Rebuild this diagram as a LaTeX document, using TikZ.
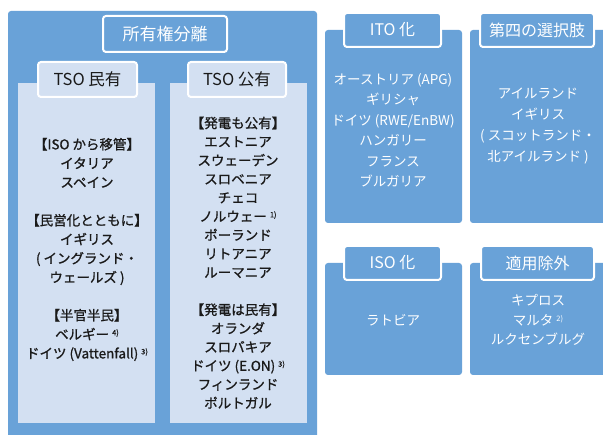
\documentclass[tikz,border=0pt]{standalone}
\usepackage{fontspec}
\setmainfont{Noto Sans CJK JP}
\newfontfamily\darkfont[FakeBold=1]{Noto Sans CJK JP}
\definecolor{panelblue}{HTML}{69A2D8}
\definecolor{panellight}{HTML}{D3E0F2}
\definecolor{textdark}{HTML}{1A1A1A}
\newcommand\fnote[1]{\raisebox{0.55ex}{\fontsize{7.5}{7.5}\selectfont #1}}
\tikzset{
  outerpanel/.style={fill=panelblue, rounded corners=3pt, anchor=north west, inner sep=0pt, outer sep=0pt},
  innerpanel/.style={fill=panellight, anchor=north west, inner sep=0pt, outer sep=0pt},
  bluetab/.style={fill=panelblue, draw=white, line width=2pt, rounded corners=3pt, anchor=north west, inner sep=0pt, outer sep=0pt, text=white, font=\fontsize{16}{16}\selectfont},
  lighttab/.style={fill=panellight, draw=white, line width=2pt, rounded corners=3pt, anchor=north west, inner sep=0pt, outer sep=0pt, text=textdark, font=\fontsize{16.5}{16.5}\selectfont},
  darklist/.style={align=center, text=textdark, inner sep=0pt},
  whitelist/.style={align=center, text=white, inner sep=0pt}
}
\begin{document}
\begin{tikzpicture}[x=1pt,y=-1pt]
\useasboundingbox (0,0) rectangle (603,435);
\fill[white] (0,0) rectangle (603,435);

% left big panel
\node[outerpanel, minimum width=309pt, minimum height=434pt] (own) at (8,11) {};
\node[bluetab, minimum width=124pt, minimum height=36pt, font=\fontsize{17}{17}\selectfont] (ownt) at (103,16) {所有権分離};
\node[innerpanel, minimum width=137pt, minimum height=340pt] (priv) at (18,83) {};
\node[innerpanel, minimum width=137pt, minimum height=340pt] (pub) at (170,83) {};
\node[lighttab, minimum width=99pt, minimum height=35pt] (privt) at (38,62) {TSO 民有};
\node[lighttab, minimum width=98pt, minimum height=35pt] (pubt) at (188,62) {TSO 公有};

\node[darklist, font=\darkfont\fontsize{13.5}{19}\selectfont] (privl) at (87,249.5) {%
【ISO から移管】\\イタリア\\スペイン\\[19pt]%
【民営化とともに】\\イギリス\\( イングランド・\\ウェールズ )\\[19pt]%
【半官半民】\\ベルギー \fnote{4)}\\ドイツ (Vattenfall) \fnote{3)}};

\node[darklist, font=\darkfont\fontsize{13.5}{18.67}\selectfont] (publ) at (238,262.7) {%
【発電も公有】\\エストニア\\スウェーデン\\スロベニア\\チェコ\\ノルウェー \fnote{1)}\\ポーランド\\リトアニア\\ルーマニア\\[18.67pt]%
【発電は民有】\\オランダ\\スロバキア\\ドイツ (E.ON) \fnote{3)}\\フィンランド\\ポルトガル};

% ITO
\node[outerpanel, minimum width=137pt, minimum height=193pt] (ito) at (325,30) {};
\node[bluetab, minimum width=97pt, minimum height=34pt] (itot) at (344,13) {ITO 化};
\node[whitelist, font=\fontsize{13.5}{20.5}\selectfont] (itol) at (393,130.3) {%
オーストリア (APG)\\ギリシャ\\ドイツ (RWE/EnBW)\\ハンガリー\\フランス\\ブルガリア};

% fourth option
\node[outerpanel, minimum width=140pt, minimum height=193pt] (four) at (470,30) {};
\node[bluetab, minimum width=114pt, minimum height=34pt] (fourt) at (480,13) {第四の選択肢};
\node[whitelist, font=\fontsize{13.5}{20.8}\selectfont] (fourl) at (538,126) {%
アイルランド\\イギリス\\( スコットランド・\\北アイルランド )};

% ISO
\node[outerpanel, minimum width=137pt, minimum height=112pt] (iso) at (325,263) {};
\node[bluetab, minimum width=97pt, minimum height=34pt] (isot) at (344,246) {ISO 化};
\node[whitelist, font=\fontsize{13.5}{19}\selectfont] (isol) at (393,320) {ラトビア};

% exemption
\node[outerpanel, minimum width=140pt, minimum height=112pt] (exm) at (470,263) {};
\node[bluetab, minimum width=113pt, minimum height=34pt] (exmt) at (481,246) {適用除外};
\node[whitelist, font=\fontsize{13.5}{19.2}\selectfont] (exml) at (538,320) {%
キプロス\\マルタ \fnote{2)}\\ルクセンブルグ};
\end{tikzpicture}
\end{document}
